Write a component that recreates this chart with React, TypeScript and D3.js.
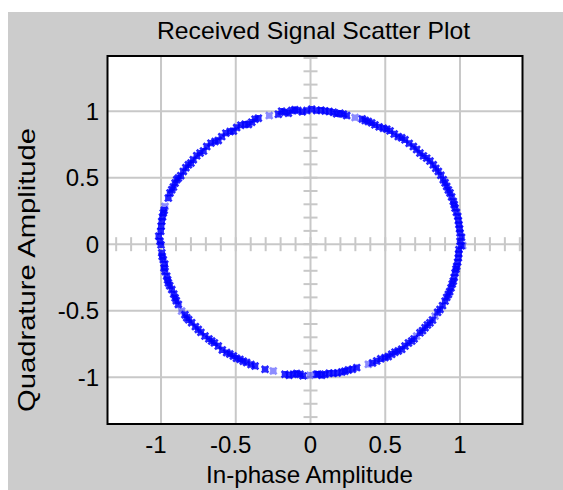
import React from "react";
import * as d3 from "d3";

// ---- data ----
const titleText = "Received Signal Scatter Plot";
const xLabelText = "In-phase Amplitude";
const yLabelText = "Quadrature Amplitude";
const xTickValues = [-1, -0.5, 0, 0.5, 1];
const yTickValues = [-1, -0.5, 0, 0.5, 1];
const xTickLabels = ["-1", "-0.5", "0", "0.5", "1"];
const yTickLabels = ["-1", "-0.5", "0", "0.5", "1"];

// current received samples (in-phase, quadrature)
const inPhase = [
  0.041, -0.025, -0.084, -0.126, -0.171, -0.215, -0.349, -0.393, -0.438, -0.494,
  -0.538, -0.594, -0.639, -0.694, -0.739, -0.784, -0.817, -0.851, -0.884, -0.906,
  -0.928, -0.951, -0.985, -0.995, -1.002, -1.007, -1.0, -0.995, -0.985, -0.98,
  -0.962, -0.951, -0.928, -0.906, -0.884, -0.828, -0.795, -0.751, -0.706, -0.661,
  -0.617, -0.561, -0.516, -0.472, -0.427, -0.371, -0.304, -0.171, -0.115, -0.07,
  0.041, 0.993, 0.989, 0.978, 0.967, 0.955, 0.94, 0.922, 0.9, 0.866,
  0.799, 0.766, 0.732, 0.677, 0.632, 0.587, 0.543, 0.498, 0.443, 0.309,
  0.253, 0.209, 0.153, 0.097, 0.052, 0.097, 0.153, 0.197, 0.242, 0.346,
  0.387, 0.431, 0.487, 0.532, 0.587, 0.632, 0.688, 0.732, 0.777, 0.821,
  0.855, 0.888, 0.911, 0.933, 0.955, 0.967, 0.985, 0.993, 1.0, 1.0,
  0.008, -0.055, -0.105, -0.148, -0.193, -0.371, -0.415, -0.466, -0.516, -0.566,
  -0.617, -0.666, -0.716, -0.761, -0.8, -0.834, -0.868, -0.895, -0.917, -0.94,
  -0.979, -0.99, -0.999, -1.015, -0.992, -0.975, -0.973, -0.956, -0.942, -0.915,
  -0.898, -0.84, -0.815, -0.77, -0.733, -0.68, -0.643, -0.59, -0.54, -0.495,
  -0.45, -0.398, -0.143, -0.093, -0.05, 0.075, 0.125, 0.18, 0.23, 0.281,
  0.415, 0.47, 0.52, 0.565, 0.61, 0.655, 0.693, 0.749, 0.782, 0.816,
  0.85, 0.883, 0.911, 0.931, 0.948, 0.961, 0.973, 0.984, 0.991, 1.008,
  0.125, 0.175, 0.22, 0.366, 0.409, 0.459, 0.51, 0.56, 0.61, 0.66,
  0.71, 0.755, 0.799, 0.838, 0.872, 0.9, 0.922, 0.944, 0.961, 0.976,
  0.989, 0.997, 1.01, 0.07,
];
const quadrature = [
  1.005, 1.005, 1.005, 1.005, 0.993, 0.977, 0.947, 0.917, 0.902, 0.877,
  0.847, 0.809, 0.772, 0.734, 0.685, 0.635, 0.597, 0.547, 0.497, 0.46,
  0.41, 0.347, 0.235, 0.172, 0.097, 0.022, -0.005, -0.065, -0.116, -0.178,
  -0.241, -0.29, -0.341, -0.403, -0.453, -0.553, -0.59, -0.641, -0.691, -0.728,
  -0.766, -0.815, -0.841, -0.866, -0.89, -0.916, -0.941, -0.978, -0.978, -0.978,
  -0.978, -0.041, -0.103, -0.166, -0.215, -0.278, -0.328, -0.378, -0.428, -0.491,
  -0.591, -0.628, -0.666, -0.728, -0.766, -0.803, -0.828, -0.853, -0.878, -0.928,
  -0.946, -0.961, -0.971, -0.978, -0.978, 1.002, 0.992, 0.985, 0.967, 0.942,
  0.922, 0.897, 0.872, 0.852, 0.809, 0.785, 0.734, 0.685, 0.647, 0.597,
  0.547, 0.485, 0.434, 0.385, 0.322, 0.272, 0.209, 0.147, 0.085, 0.022,
  1.015, 0.995, 1.012, 0.985, 1.0, 0.94, 0.9, 0.895, 0.85, 0.835,
  0.78, 0.76, 0.7, 0.665, 0.61, 0.575, 0.515, 0.485, 0.43, 0.385,
  0.255, 0.205, 0.135, 0.06, -0.092, -0.15, -0.205, -0.268, -0.312, -0.375,
  -0.425, -0.53, -0.568, -0.62, -0.663, -0.712, -0.742, -0.795, -0.826, -0.858,
  -0.88, -0.905, -0.985, -0.972, -0.99, -0.985, -0.97, -0.968, -0.955, -0.94,
  -0.893, -0.862, -0.845, -0.812, -0.79, -0.743, -0.712, -0.65, -0.607, -0.57,
  -0.512, -0.462, -0.4, -0.356, -0.3, -0.25, -0.188, -0.135, -0.072, -0.012,
  0.998, 0.98, 0.978, 0.93, 0.912, 0.882, 0.865, 0.828, 0.8, 0.758,
  0.712, 0.664, 0.625, 0.57, 0.518, 0.462, 0.408, 0.355, 0.298, 0.24,
  0.178, 0.116, 0.052, 1.008,
];

// older (faded) samples
const fadedInPhase = [-0.276, -0.973, -0.862, -0.249, -0.003, 0.833, 0.71, 0.387, 0.298, 1.018];
const fadedQuadrature = [0.967, 0.284, -0.503, -0.953, -0.986, -0.541, -0.691, -0.903, 0.952, -0.01];

// ---- layout ----
const W = 563;
const H = 490;
const plot = { left: 107.5, right: 522.5, top: 56, bottom: 424 };
const xDomain = [-1.358, 1.418];
const yDomain = [-1.352, 1.415];
const FONT = "'Liberation Sans', Arial, Helvetica, sans-serif";
const GRID = "#c8c8c8";

export default function App() {
  const x = d3.scaleLinear().domain(xDomain).range([plot.left, plot.right]);
  const y = d3.scaleLinear().domain(yDomain).range([plot.bottom, plot.top]);

  const minorX = d3.range(-13, 15).map((k) => k / 10);
  const minorY = d3.range(-13, 15).map((k) => k / 10);

  const x0 = x(0);
  const y0 = y(0);
  const m = 3.3;
  const p = 2.2;

  const markerPath = (i: number, q: number) => {
    const px = x(i);
    const py = y(q);
    return (
      `M${px - m},${py - m}L${px + m},${py + m}M${px - m},${py + m}L${px + m},${py - m}` +
      `M${px - p - 1},${py}L${px + p + 1},${py}M${px},${py - p - 1}L${px},${py + p + 1}`
    );
  };

  const faded = fadedInPhase.map((v, k) => markerPath(v, fadedQuadrature[k]));
  const current = inPhase.map((v, k) => markerPath(v, quadrature[k]));

  return (
    <svg
      width={W}
      height={H}
      style={{ position: "absolute", left: 0, top: 0, display: "block" }}
      fontFamily={FONT}
    >
      <rect x={8} y={12} width={W - 8} height={H - 12} fill="#cccccc" />
      <rect
        x={plot.left}
        y={plot.top}
        width={plot.right - plot.left}
        height={plot.bottom - plot.top}
        fill="#ffffff"
      />
      {/* grid */}
      {xTickValues
        .filter((v) => v !== 0)
        .map((v) => (
          <line key={"gx" + v} x1={x(v)} x2={x(v)} y1={plot.top} y2={plot.bottom} stroke={GRID} strokeWidth={2} />
        ))}
      {yTickValues
        .filter((v) => v !== 0)
        .map((v) => (
          <line key={"gy" + v} x1={plot.left} x2={plot.right} y1={y(v)} y2={y(v)} stroke={GRID} strokeWidth={2} />
        ))}
      {/* center axes with minor ticks */}
      <line x1={plot.left} x2={plot.right} y1={y0} y2={y0} stroke={GRID} strokeWidth={2} />
      <line x1={x0} x2={x0} y1={plot.top} y2={plot.bottom} stroke={GRID} strokeWidth={2} />
      {minorX.map((v) => (
        <line key={"mx" + v} x1={x(v)} x2={x(v)} y1={y0 - 7} y2={y0 + 7} stroke={GRID} strokeWidth={2} />
      ))}
      {minorY.map((v) => (
        <line key={"my" + v} x1={x0 - 7} x2={x0 + 7} y1={y(v)} y2={y(v)} stroke={GRID} strokeWidth={2} />
      ))}
      {/* samples */}
      {faded.map((d, k) => (
        <path key={"f" + k} d={d} stroke="#0000ff" strokeOpacity={0.45} strokeWidth={2.6} fill="none" />
      ))}
      {current.map((d, k) => (
        <path key={"p" + k} d={d} stroke="#0000ff" strokeOpacity={0.85} strokeWidth={2.6} fill="none" />
      ))}
      {/* frame */}
      <rect
        x={plot.left}
        y={plot.top}
        width={plot.right - plot.left}
        height={plot.bottom - plot.top}
        fill="none"
        stroke="#000000"
        strokeWidth={2}
      />
      {/* tick labels */}
      {xTickValues.map((v, k) => (
        <text
          key={"tx" + v}
          x={x(v)}
          dx={v < 0 ? -5 : 0}
          y={453.3}
          textAnchor="middle"
          fontSize={24}
          fill="#000"
        >
          {xTickLabels[k]}
        </text>
      ))}
      {yTickValues.map((v, k) => (
        <text key={"ty" + v} x={99} y={y(v) + 8.5} textAnchor="end" fontSize={24} fill="#000">
          {yTickLabels[k]}
        </text>
      ))}
      {/* titles */}
      <text x={313.5} y={39} textAnchor="middle" fontSize={24} fill="#000" textLength={313} lengthAdjust="spacingAndGlyphs">
        {titleText}
      </text>
      <text x={309.5} y={483.3} textAnchor="middle" fontSize={24} fill="#000" textLength={207} lengthAdjust="spacingAndGlyphs">
        {xLabelText}
      </text>
      <text
        transform={`translate(35,270) rotate(-90)`}
        textAnchor="middle"
        fontSize={24}
        fill="#000"
        textLength={284}
        lengthAdjust="spacingAndGlyphs"
      >
        {yLabelText}
      </text>
    </svg>
  );
}
